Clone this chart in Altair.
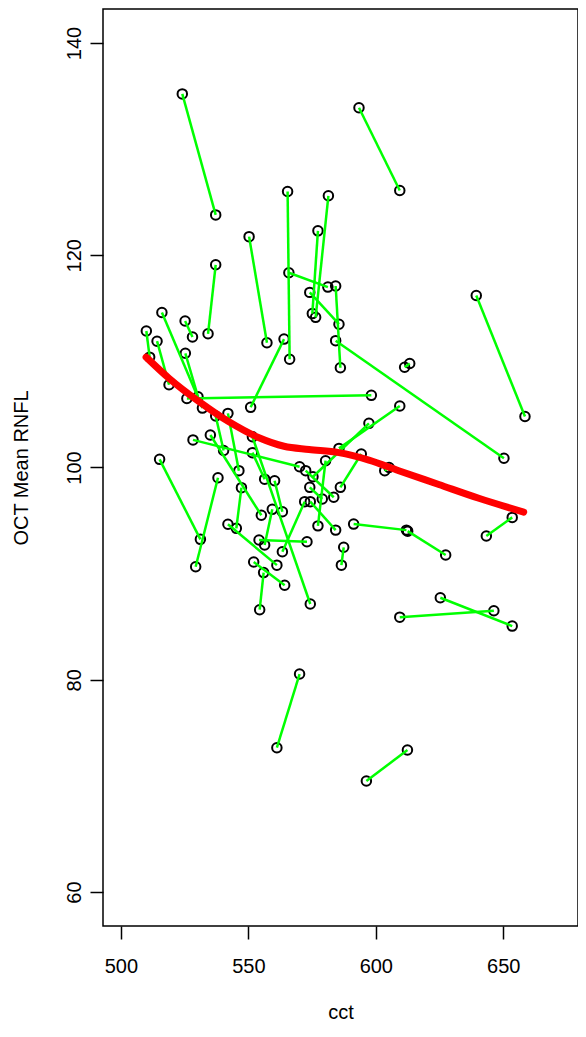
import altair as alt
import pandas as pd

cct_a = [524.1, 593.4, 639.4, 565.4, 565.9, 581.4, 577.3, 550.3, 537.2, 584.25,
         574.1, 584.25, 564.0, 611.3, 598.25, 510.0, 514.2, 516.1, 525.2, 525.3,
         537.2, 542.0, 535.1, 528.3, 551.6, 551.6, 560.3, 572.5, 574.1, 575.35,
         585.55, 580.3, 594.3, 572.1, 574.3, 559.4, 554.2, 587.4, 552.1, 542.0,
         554.45, 591.3, 612.5, 603.5, 653.5, 625.3, 609.4, 515.2, 538.1, 547.3,
         570.1, 612.4]
rnfl_a = [135.2, 133.9, 116.2, 126.0, 118.35, 125.6, 122.3, 121.75, 119.1, 117.1,
          116.5, 111.95, 112.1, 109.44, 106.8, 112.86, 111.9, 114.6, 113.8, 110.76,
          104.85, 105.1, 103.06, 102.6, 101.4, 102.9, 98.75, 99.7, 98.13, 99.13,
          101.8, 100.64, 101.27, 96.78, 96.78, 96.06, 93.17, 92.48, 91.1, 94.65,
          86.6, 94.67, 94.0, 99.7, 95.3, 87.73, 85.9, 100.77, 99.04, 98.1,
          80.54, 73.38]
cct_b = [537.2, 609.4, 658.5, 566.2, 581.2, 576.4, 575.1, 557.3, 534.2, 586.1,
         585.55, 650.25, 550.9, 613.3, 525.9, 511.3, 518.9, 532.0, 528.1, 530.25,
         540.3, 546.3, 555.1, 570.1, 556.4, 574.3, 563.35, 583.5, 579.0, 597.3,
         609.4, 577.3, 586.1, 563.35, 584.25, 556.4, 573.0, 586.5, 564.25, 561.2,
         556.0, 612.0, 627.4, 605.2, 643.35, 653.5, 646.3, 531.2, 529.35, 545.3,
         561.2, 596.3]
rnfl_b = [123.8, 126.1, 104.8, 110.2, 117.0, 114.15, 114.5, 111.76, 112.6, 109.4,
          113.5, 100.87, 105.67, 109.8, 106.5, 110.4, 107.8, 105.6, 112.3, 106.67,
          101.6, 99.7, 95.5, 100.07, 98.9, 87.14, 95.83, 97.2, 97.03, 104.16,
          105.8, 94.5, 98.13, 92.06, 94.1, 92.7, 93.0, 90.8, 88.9, 90.8,
          90.1, 94.1, 91.75, 100.0, 93.55, 85.06, 86.5, 93.23, 90.65, 94.27,
          73.6, 70.46]

# smooth fit (red curve)
fit_cct = [509.9, 518.9, 530.7, 542.4, 554.2, 564.0, 573.8, 585.5, 597.3, 609.0,
           624.7, 640.4, 658.0]
fit_rnfl = [110.4, 108.4, 106.2, 104.3, 102.8, 102.0, 101.7, 101.4, 100.7, 99.7,
            98.4, 97.1, 95.8]

pairs = pd.DataFrame({"cct": cct_a, "rnfl": rnfl_a, "cct2": cct_b, "rnfl2": rnfl_b})
pts = pd.DataFrame({"cct": cct_a + cct_b, "rnfl": rnfl_a + rnfl_b})
fit = pd.DataFrame({"cct": fit_cct, "rnfl": fit_rnfl})

FONT = "Liberation Sans"
xs = alt.Scale(domain=[493, 679.3], nice=False, zero=False)
ys = alt.Scale(domain=[56.8, 143.2], nice=False, zero=False)

xax = alt.Axis(values=[500, 550, 600, 650], title="cct", grid=False, domain=False,
               tickColor="black", tickSize=13, tickWidth=1.5,
               labelFont=FONT, labelFontSize=20, labelColor="black",
               labelBaseline="alphabetic", labelPadding=33,
               titleFont=FONT, titleFontSize=20, titleFontWeight="normal",
               titleColor="black", titleBaseline="alphabetic", titleY=92)
yax = alt.Axis(values=[60, 80, 100, 120, 140], title="OCT Mean RNFL", grid=False,
               domain=False, tickColor="black", tickSize=13, tickWidth=1.5,
               labelFont=FONT, labelFontSize=20, labelColor="black",
               labelAngle=270, labelAlign="center", labelBaseline="alphabetic",
               labelPadding=10,
               titleFont=FONT, titleFontSize=20, titleFontWeight="normal",
               titleColor="black", titleBaseline="alphabetic", titleX=-76)

points = alt.Chart(pts).mark_point(shape="circle", filled=False, size=90,
                                   color="black", strokeWidth=2, opacity=1).encode(
    x=alt.X("cct:Q", scale=xs, axis=xax),
    y=alt.Y("rnfl:Q", scale=ys, axis=yax),
)
segs = alt.Chart(pairs).mark_rule(color="#00FF00", strokeWidth=2.5).encode(
    x="cct:Q", y="rnfl:Q", x2="cct2:Q", y2="rnfl2:Q"
)
curve = alt.Chart(fit).mark_line(color="#FF0000", strokeWidth=7, strokeCap="round",
                                 interpolate="monotone").encode(
    x="cct:Q", y="rnfl:Q", order="cct:Q"
)

chart = alt.layer(points, segs, curve).properties(
    width=475, height=917,
    autosize=alt.AutoSizeParams(type="none"),
    padding={"left": 95, "top": 1, "right": 0, "bottom": 98},
).configure_view(stroke="black", strokeWidth=1.5)

chart.save("out.html", embed_options={"renderer": "svg", "actions": False})
